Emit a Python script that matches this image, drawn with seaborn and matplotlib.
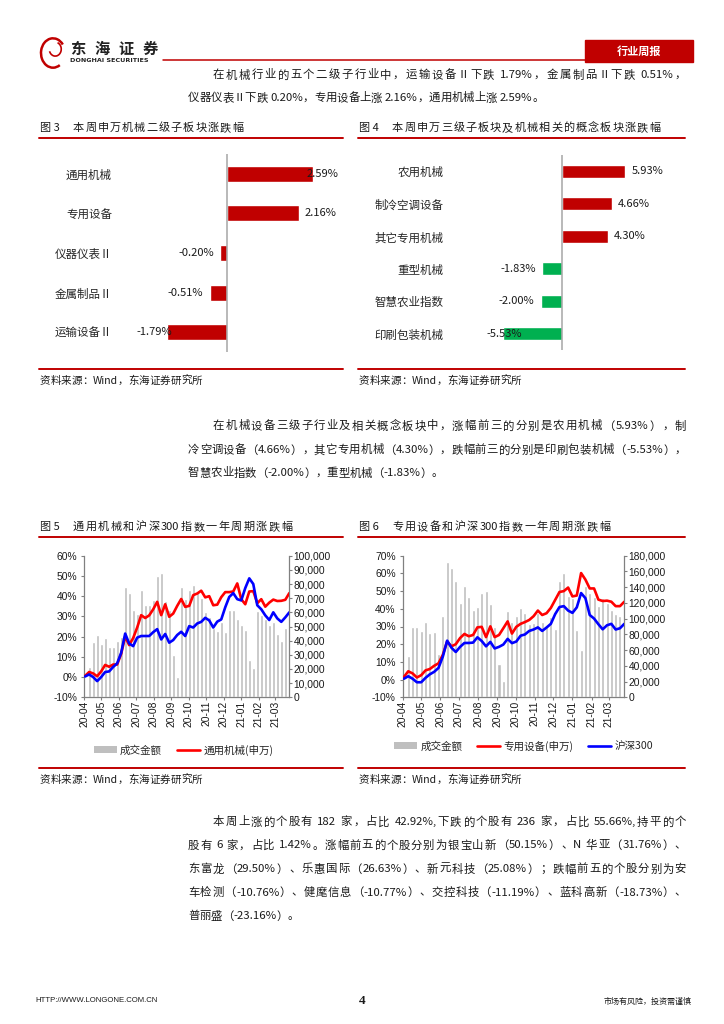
import re
import numpy as np
import pandas as pd
import matplotlib
matplotlib.use("Agg")
import matplotlib.pyplot as plt
import matplotlib.patches as mpatches
from matplotlib import font_manager
from matplotlib.font_manager import FontProperties
from matplotlib.lines import Line2D
from matplotlib.ticker import FuncFormatter
import seaborn as sns

sns.set_theme(style="white")
plt.rcParams["font.family"] = ["Noto Sans CJK SC", "DejaVu Sans"]
plt.rcParams["axes.unicode_minus"] = False

RED = "#C00000"
INK = "#1a1a1a"
NUM = "Liberation Sans"

# ---------------- data ----------------
fig3_cats = ["通用机械", "专用设备", "仪器仪表Ⅱ", "金属制品Ⅱ", "运输设备Ⅱ"]
fig3_vals = [2.59, 2.16, -0.20, -0.51, -1.79]

fig4_cats = ["农用机械", "制冷空调设备", "其它专用机械", "重型机械", "智慧农业指数", "印刷包装机械"]
fig4_vals = [5.93, 4.66, 4.30, -1.83, -2.00, -5.53]

# weekly points, Fridays 2020-04-03 .. 2021-03-26 (cumulative change, %)
week_dates = pd.date_range("2020-04-03", "2021-03-26", freq="7D")
# weekly turnover bars 2020-04-10 .. 2021-03-19 (thousands)
turnover_dates = pd.date_range("2020-04-10", "2021-03-19", freq="7D")
month_starts = pd.date_range("2020-04-01", "2021-03-01", freq="MS")

fig5_general = [0.6, 2.5, 1.8, 0.4, 2.8, 6.0, 5.1, 6.2, 6.2, 11.5,
                20.0, 15.8, 19.3, 24.5, 30.6, 29.2, 30.5, 33.5, 37.2, 30.6,
                36.0, 29.8, 31.4, 35.2, 38.6, 34.7, 35.2, 40.5, 41.3, 42.7,
                39.4, 40.0, 35.5, 35.8, 39.5, 42.0, 42.0, 42.3, 46.3, 38.5,
                36.0, 42.3, 42.5, 36.5, 38.5, 34.8, 36.8, 38.3, 37.6, 37.7,
                38.2, 41.5]
fig5_hs300 = [0.3, 1.3, 0.0, -2.0, 0.0, 2.5, 2.8, 5.0, 6.8, 12.0,
              21.5, 16.6, 15.3, 19.5, 20.3, 20.3, 20.3, 22.2, 23.7, 18.6,
              21.3, 17.0, 18.3, 20.8, 22.4, 20.3, 25.2, 24.5, 26.5, 27.3,
              29.3, 28.0, 24.5, 27.4, 28.5, 34.5, 39.6, 41.5, 38.5, 37.9,
              44.0, 48.8, 46.0, 35.5, 33.5, 30.5, 28.2, 32.0, 29.0, 27.3,
              29.5, 32.0]
fig5_turnover = [21.6, 38.8, 44.0, 37.4, 41.6, 35.3, 35.3, 40.0, 42.7, 78.0,
                 73.9, 62.0, 58.6, 76.0, 65.0, 65.0, 69.0, 86.0, 88.0, 68.0,
                 62.0, 30.0, 14.0, 78.0, 69.7, 75.6, 79.6, 75.0, 70.0, 60.5,
                 57.0, 48.6, 47.0, 53.0, 45.8, 62.0, 61.5, 55.6, 51.0, 47.5,
                 26.0, 21.0, 60.8, 58.0, 55.0, 51.0, 53.0, 44.4, 39.6, 48.6]

fig6_special = [1.5, 4.7, 3.5, 1.2, 2.5, 5.2, 6.0, 7.8, 9.2, 14.0,
                21.6, 18.8, 20.0, 23.5, 25.8, 24.5, 25.2, 29.5, 29.8, 24.0,
                30.1, 24.0, 25.2, 29.0, 32.9, 26.0, 29.8, 31.5, 32.5, 33.7,
                35.8, 39.0, 36.5, 37.5, 40.5, 45.0, 49.5, 50.0, 52.0, 47.0,
                47.5, 60.2, 56.5, 51.5, 51.5, 45.2, 44.4, 44.6, 44.0, 41.5,
                41.5, 44.0]
fig6_hs300 = [0.5, 1.9, 0.5, -1.5, -1.5, 1.0, 3.0, 4.4, 6.6, 13.0,
              22.0, 18.0, 15.6, 18.5, 20.7, 20.7, 20.9, 23.9, 21.8, 18.8,
              21.3, 17.6, 18.5, 19.8, 23.0, 20.6, 21.5, 24.8, 25.5, 27.5,
              28.3, 29.5, 27.5, 29.4, 31.5, 37.0, 41.0, 41.5, 39.0, 37.7,
              40.8, 48.9, 46.0, 36.5, 34.5, 31.3, 28.4, 30.7, 31.5, 28.3,
              29.0, 31.5]
fig6_turnover = [53, 89, 90, 84, 96, 82, 83, 55, 103, 172,
                 165, 148, 119.5, 141.5, 127, 111, 115, 133, 135, 118,
                 90, 42, 21, 110, 96, 103, 114, 107, 93, 94,
                 107, 96, 90, 102, 87, 148, 158, 129, 126, 85,
                 60, 141, 133, 127, 116.5, 126, 119.5, 111, 106, 103]

para1 = ["在机械行业的五个二级子行业中，运输设备Ⅱ下跌 1.79%，金属制品Ⅱ下跌 0.51%，",
         "仪器仪表Ⅱ下跌 0.20%，专用设备上涨 2.16%，通用机械上涨 2.59%。"]
para2 = ["在机械设备三级子行业及相关概念板块中，涨幅前三的分别是农用机械（5.93%），制",
         "冷空调设备（4.66%），其它专用机械（4.30%），跌幅前三的分别是印刷包装机械（-5.53%），",
         "智慧农业指数（-2.00%），重型机械（-1.83%）。"]
para3 = ["本周上涨的个股有 182 家，占比 42.92%,下跌的个股有 236 家，占比 55.66%,持平的个",
         "股有 6 家，占比 1.42%。涨幅前五的个股分别为银宝山新（50.15%）、N 华亚（31.76%）、",
         "东富龙（29.50%）、乐惠国际（26.63%）、新元科技（25.08%）；跌幅前五的个股分别为安",
         "车检测（-10.76%）、健麾信息（-10.77%）、交控科技（-11.19%）、蓝科高新（-18.73%）、",
         "普丽盛（-23.16%）。"]

origin = pd.Timestamp("2020-04-01")
week_days = (week_dates - origin).days.values
turnover_days = (turnover_dates - origin).days.values
month_days = (month_starts - origin).days.values
month_labels = [d.strftime("%y-%m") for d in month_starts]
end_day = (pd.Timestamp("2021-03-26") - origin).days

# ---------------- page helpers (pixel coords from top-left) ----------------
W, H = 724, 1024
fig = plt.figure(figsize=(W / 100, H / 100), dpi=100)


def put(x, y, s, **kw):
    kw.setdefault("va", "center")
    return fig.text(x / W, 1 - y / H, s, **kw)


def hline(x0, x1, y, color=RED, lw=1.4):
    fig.add_artist(Line2D([x0 / W, x1 / W], [1 - y / H, 1 - y / H], color=color,
                          lw=lw, transform=fig.transFigure))


def px_axes(l, t, r, b):
    return fig.add_axes([l / W, 1 - b / H, (r - l) / W, (b - t) / H])


def advance(s, prop):
    font = font_manager.get_font(font_manager.findfont(prop))
    font.set_size(prop.get_size_in_points(), 100)
    return sum(font.load_char(ord(c)).linearHoriAdvance / 65536 for c in s)


def spread(x0, x1, y, s, size=8.2, weight="normal", color=INK):
    # token by token so the line fills x0..x1 like justified print
    prop = FontProperties(family="Noto Sans CJK SC", size=size, weight=weight)
    toks = re.findall(r"[!-~]+| |.", s)
    ws = [advance(t, prop) for t in toks]
    gap = 0 if x1 is None else (x1 - x0 - sum(ws)) / max(len(toks) - 1, 1)
    x = x0
    for t, w in zip(toks, ws):
        if t != " ":
            put(x, y, t, fontproperties=prop, color=color, ha="left")
        x += w + gap


# ---------------- header ----------------
lg = px_axes(38, 36, 68, 70)
lg.set_xlim(-1, 1)
lg.set_ylim(-1.1, 1.1)
lg.axis("off")
lg.add_patch(mpatches.Arc((0, 0), 1.6, 1.9, theta1=40, theta2=300, color=RED, lw=1.8))
lg.add_patch(mpatches.Arc((0.15, 0.25), 0.8, 0.9, theta1=200, theta2=70, color=RED, lw=1.2))
spread(70, 158, 49, "东海证券", size=11, weight="bold", color="#222222")
put(70, 61, "DONGHAI SECURITIES", fontsize=4.6, weight="bold", family="DejaVu Sans", color="#222222")
hline(163, 585, 60, lw=1.1)
fig.add_artist(mpatches.Rectangle((585 / W, 1 - 62 / H), 108 / W, 22 / H,
                                  transform=fig.transFigure, color=RED))
put(639, 51, "行业周报", color="white", fontsize=8, weight="bold", ha="center")

spread(213, 686, 75, para1[0])
spread(188, None, 98, para1[1])


# ---------------- figure frames ----------------
def frame(x0, x1, ytitle, num, title, tx1, ybottom):
    put(x0 + 1, ytitle, f"图 {num}", fontsize=8, color=INK, ha="left")
    spread(x0 + 34, tx1, ytitle, title, size=8)
    hline(x0, x1, ytitle + 10)
    hline(x0, x1, ybottom)
    spread(x0 + 1, x0 + 163, ybottom + 12, "资料来源：Wind，东海证券研究所", size=7.6)


frame(39, 343, 128, 3, "本周申万机械二级子板块涨跌幅", 243, 369)
frame(358, 685, 128, 4, "本周申万三级子板块及机械相关的概念板块涨跌幅", 660, 369)
frame(39, 343, 527, 5, "通用机械和沪深300指数一年周期涨跌幅", 292, 768)
frame(358, 685, 527, 6, "专用设备和沪深300指数一年周期涨跌幅", 610, 768)


# ---------------- horizontal bar charts ----------------
def hbar(l, t, r, b, cats, vals, colors, xlim, pad):
    ax = px_axes(l, t, r, b)
    sns.barplot(x=vals, y=cats, hue=cats, palette=colors, legend=False, orient="h",
                width=0.4, saturation=1, ax=ax)
    ax.set_xlim(*xlim)
    ax.axvline(0, color="#A6A6A6", lw=1.1, zorder=3)
    for s in ax.spines.values():
        s.set_visible(False)
    ax.set_xticks([])
    ax.set_xlabel("")
    ax.set_ylabel("")
    ax.set_facecolor("none")
    ax.tick_params(axis="y", left=False, length=0, pad=pad, labelsize=8.3, labelcolor="#262626")
    texts = []
    for i, v in enumerate(vals):
        texts.append(ax.annotate(f"{v:.2f}%", (v, i), xytext=(4.5 if v > 0 else -4.5, 0),
                                 textcoords="offset points", ha="left" if v > 0 else "right",
                                 va="center", fontsize=8, color=INK))
    return ax, texts


ax3, t3 = hbar(136, 154, 338, 352, fig3_cats, fig3_vals, [RED] * 5, (-2.72, 3.34), 17.3)
ax4, t4 = hbar(486, 155, 685, 350, fig4_cats, fig4_vals,
               [RED if v > 0 else "#00B050" for v in fig4_vals], (-7.12, 11.55), 30.7)


# ---------------- combo charts ----------------
def combo(l, t, r, b, turnover, series, colors, lim, rmax, rstep):
    ax = px_axes(l, t, r, b)
    sns.barplot(x=turnover_days, y=np.array(turnover) * 1000, native_scale=True,
                color="#BFBFBF", saturation=1, width=0.7, errorbar=None, ax=ax)
    ax2 = ax.twinx()
    for vals, c in zip(series, colors):
        sns.lineplot(x=week_days, y=vals, color=c, linewidth=1.9, ax=ax2)
    ax.yaxis.tick_right()
    ax2.yaxis.tick_left()
    ax.set_xlim(0, end_day)
    ax.set_ylim(0, rmax)
    ax.set_yticks(np.arange(0, rmax + 1, rstep))
    ax.yaxis.set_major_formatter(FuncFormatter(lambda v, p: f"{v:,.0f}"))
    ax2.set_ylim(*lim)
    ax2.set_yticks(np.arange(lim[0], lim[1] + 1, 10))
    ax2.yaxis.set_major_formatter(FuncFormatter(lambda v, p: f"{v:.0f}%"))
    ax.set_xticks(month_days)
    ax.set_xticklabels(month_labels, rotation=90)
    for a in (ax, ax2):
        a.set_xlabel("")
        a.set_ylabel("")
        a.grid(False)
        for s in a.spines.values():
            s.set_visible(False)
    for side in ("left", "right", "bottom"):
        ax.spines[side].set_visible(True)
        ax.spines[side].set_color("#808080")
        ax.spines[side].set_linewidth(0.9)
    common = dict(direction="out", length=2.2, width=0.8, color="#808080",
                  labelsize=7.4, labelcolor=INK, labelfontfamily=NUM)
    ax.tick_params(axis="x", bottom=True, pad=0.5, **common)
    ax.tick_params(axis="y", right=True, left=False, pad=0.8, **common)
    ax2.tick_params(axis="y", left=True, right=False, pad=2.8, **common)
    return ax, ax2


combo(84, 555.7, 289.3, 697.3, fig5_turnover, [fig5_general, fig5_hs300],
      ["#FF0000", "#0000FF"], (-10, 60), 100000, 10000)
combo(402.7, 555.7, 624.3, 697.3, fig6_turnover, [fig6_special, fig6_hs300],
      ["#FF0000", "#0000FF"], (-10, 70), 180000, 20000)

bar_h = mpatches.Patch(facecolor="#BFBFBF", edgecolor="none")
red_h = Line2D([], [], color="#FF0000", lw=1.9)
blue_h = Line2D([], [], color="#0000FF", lw=1.9)
leg_kw = dict(loc="center", frameon=False, fontsize=7.6, handlelength=2.2, handletextpad=0.3,
              columnspacing=1.4, borderaxespad=0, borderpad=0)
fig.legend([bar_h, red_h], ["成交金额", "通用机械(申万)"], ncol=2,
           bbox_to_anchor=(183.5 / W, 1 - 750 / H), **leg_kw)
fig.legend([bar_h, red_h, blue_h], ["成交金额", "专用设备(申万)", "沪深300"], ncol=3,
           bbox_to_anchor=(523.5 / W, 1 - 746 / H), **leg_kw)

# ---------------- body text ----------------
spread(213, 686, 426, para2[0])
spread(188, 686, 450, para2[1])
spread(188, None, 473, para2[2])
for i, line in enumerate(para3):
    x0 = 213 if i == 0 else 188
    spread(x0, 686 if i < len(para3) - 1 else None, 822 + 23.5 * i, line)

# ---------------- footer ----------------
put(35, 1001, "HTTP://WWW.LONGONE.COM.CN", fontsize=5.6,
    family=["Liberation Sans Narrow", "Liberation Sans"], color=INK, ha="left")
put(362, 1001, "4", fontsize=9.5, weight="bold", family="Liberation Serif", ha="center", color=INK)
put(692, 1001, "市场有风险，投资需谨慎", fontsize=5.8, ha="right", color=INK)

# keep bar value labels inside their plot areas
fig.canvas.draw()
rend = fig.canvas.get_renderer()
for ax, texts in ((ax3, t3), (ax4, t4)):
    box = ax.get_window_extent(rend)
    for t in texts:
        bb = t.get_window_extent(rend)
        shift = 0
        if bb.x1 > box.x1:
            shift = box.x1 - bb.x1
        elif bb.x0 < box.x0:
            shift = box.x0 - bb.x0
        if shift:
            ox, oy = t.xyann
            t.xyann = (ox + shift * 72 / fig.dpi, oy)

fig.savefig("out.png", dpi=100)
